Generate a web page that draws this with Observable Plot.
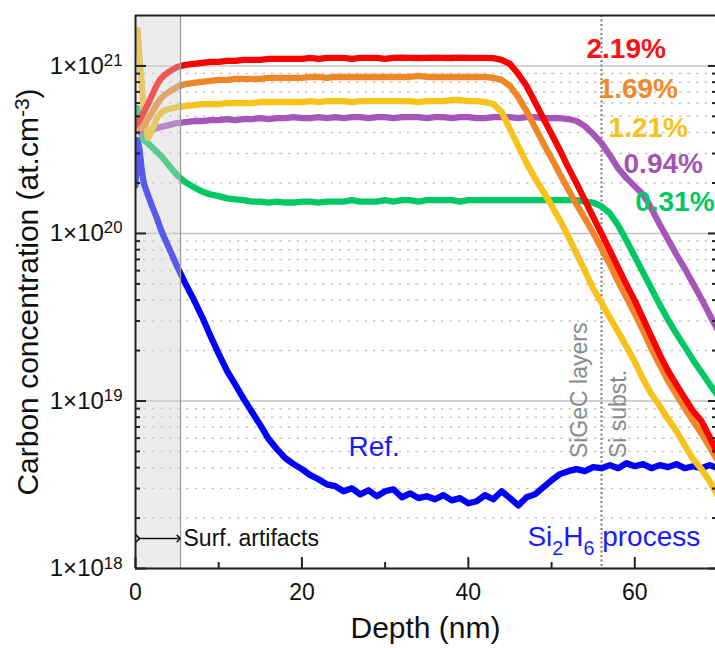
<!DOCTYPE html>
<html><head><meta charset="utf-8">
<script src="https://cdn.jsdelivr.net/npm/d3@7"></script>
<script src="https://cdn.jsdelivr.net/npm/@observablehq/plot@0.6"></script>
<style>
html,body{margin:0;padding:0;background:#fff;}
#chart{width:715px;height:648px;overflow:hidden;}
</style></head>
<body><div id="chart"></div>
<script>
// ---- data (depth in nm, carbon concentration in at.cm^-3) ----
const depth = [0,0.25,0.5,0.75,1,1.5,2,2.5,3,3.5,4,
  5,6,7,8,9,10,11,12,13,14,15,16,17,18,19,20,21,22,23,24,25,26,27,28,29,30,
  31,32,33,34,35,36,37,38,39,40,41,42,43,44,45,46,47,48,49,50,
  51,52,53,54,55,56,57,58,59,60,61,62,63,64,65,66,67,68,69,70];

const c219 = [4.43e20,4.56e20,4.75e20,5.02e20,5.30e20,5.92e20,6.71e20,7.59e20,8.36e20,8.84e20,9.21e20,
  9.86e20,1.014e21,1.028e21,1.042e21,1.057e21,1.057e21,
  1.071e21,1.071e21,1.086e21,1.086e21,1.086e21,
  1.101e21,1.101e21,1.101e21,1.101e21,1.101e21,
  1.117e21,1.101e21,1.117e21,1.117e21,1.117e21,
  1.101e21,1.117e21,1.117e21,1.117e21,1.101e21,
  1.117e21,1.12e21,1.117e21,1.115e21,1.117e21,
  1.12e21,1.117e21,1.115e21,1.12e21,1.117e21,
  1.117e21,1.117e21,1.112e21,1.086e21,1.028e21,
  8.96e20,7.59e20,6.09e20,4.88e20,3.92e20,
  3.14e20,2.48e20,1.99e20,1.58e20,1.25e20,
  1.00e20,7.91e19,6.26e19,4.95e19,3.97e19,
  3.10e19,2.42e19,1.89e19,1.51e19,1.25e19,
  1.04e19,8.71e18,7.59e18,6.09e18,4.82e18];

const c169 = [4.25e20,4.25e20,4.25e20,4.31e20,4.43e20,4.82e20,5.30e20,5.84e20,6.35e20,6.71e20,6.99e20,
  7.49e20,7.80e20,7.91e20,8.02e20,8.13e20,8.25e20,
  8.25e20,8.36e20,8.36e20,8.36e20,8.36e20,
  8.48e20,8.48e20,8.48e20,8.48e20,8.48e20,
  8.59e20,8.59e20,8.48e20,8.59e20,8.59e20,
  8.59e20,8.59e20,8.59e20,8.59e20,8.59e20,
  8.59e20,8.59e20,8.59e20,8.71e20,8.59e20,
  8.59e20,8.59e20,8.59e20,8.59e20,8.59e20,
  8.59e20,8.59e20,8.48e20,8.25e20,7.59e20,
  6.52e20,5.38e20,4.31e20,3.46e20,2.81e20,
  2.26e20,1.83e20,1.49e20,1.23e20,1.01e20,
  8.13e19,6.52e19,5.16e19,4.14e19,3.32e19,
  2.63e19,2.05e19,1.64e19,1.32e19,1.09e19,
  9.08e18,7.59e18,6.43e18,5.30e18,4.37e18];

const c121 = [1.53e21,1.64e21,1.09e21,7.70e20,5.45e20,3.71e20,4.14e20,4.82e20,5.23e20,5.45e20,5.53e20,
  5.68e20,5.76e20,5.84e20,5.92e20,5.92e20,5.92e20,
  6.00e20,6.00e20,6.00e20,6.00e20,6.09e20,
  6.09e20,6.09e20,6.09e20,6.09e20,6.09e20,
  6.17e20,6.09e20,6.17e20,6.17e20,6.17e20,
  6.09e20,6.17e20,6.17e20,6.17e20,6.17e20,
  6.17e20,6.17e20,6.17e20,6.09e20,6.17e20,
  6.17e20,6.17e20,6.26e20,6.26e20,6.17e20,
  6.17e20,6.09e20,5.92e20,5.30e20,4.20e20,
  3.32e20,2.63e20,2.14e20,1.78e20,1.47e20,
  1.20e20,9.60e19,7.59e19,6.00e19,4.69e19,
  3.86e19,3.14e19,2.59e19,2.11e19,1.71e19,
  1.35e19,1.10e19,9.34e18,7.80e18,6.61e18,
  5.45e18,4.50e18,3.92e18,3.32e18,2.70e18];

const c094 = [4.14e20,4.08e20,4.03e20,4.03e20,4.03e20,4.08e20,4.14e20,4.25e20,4.31e20,4.37e20,4.43e20,
  4.56e20,4.62e20,4.69e20,4.69e20,4.75e20,4.75e20,
  4.82e20,4.75e20,4.82e20,4.82e20,4.88e20,
  4.82e20,4.88e20,4.88e20,4.95e20,4.88e20,
  4.88e20,4.95e20,4.88e20,4.95e20,4.88e20,
  4.95e20,4.95e20,4.88e20,4.95e20,4.95e20,
  4.88e20,4.95e20,4.95e20,4.95e20,4.88e20,
  4.95e20,4.95e20,4.88e20,4.95e20,4.95e20,
  4.88e20,4.88e20,4.95e20,4.95e20,4.95e20,
  4.88e20,4.95e20,4.95e20,4.88e20,4.88e20,
  4.88e20,4.82e20,4.69e20,4.37e20,3.92e20,
  3.46e20,2.93e20,2.45e20,2.14e20,1.91e20,
  1.71e20,1.41e20,1.13e20,9.21e19,7.49e19,
  6.17e19,5.02e19,4.08e19,3.27e19,2.63e19];

const c031 = [4.88e20,5.60e20,4.43e20,3.86e20,3.61e20,3.46e20,3.27e20,3.10e20,2.93e20,2.74e20,2.55e20,
  2.23e20,2.02e20,1.89e20,1.78e20,1.71e20,1.67e20,
  1.62e20,1.60e20,1.58e20,1.55e20,1.55e20,
  1.53e20,1.55e20,1.53e20,1.53e20,1.55e20,
  1.55e20,1.53e20,1.55e20,1.55e20,1.55e20,
  1.58e20,1.55e20,1.55e20,1.55e20,1.58e20,
  1.55e20,1.58e20,1.58e20,1.55e20,1.58e20,
  1.58e20,1.58e20,1.58e20,1.55e20,1.58e20,
  1.58e20,1.58e20,1.58e20,1.58e20,1.58e20,
  1.58e20,1.58e20,1.58e20,1.58e20,1.58e20,
  1.58e20,1.58e20,1.58e20,1.55e20,1.53e20,
  1.45e20,1.32e20,1.12e20,9.08e19,7.28e19,
  5.84e19,4.69e19,3.76e19,3.05e19,2.52e19,
  2.11e19,1.76e19,1.49e19,1.26e19,1.07e19];

const cRef = [1.94e20,3.61e20,3.14e20,2.38e20,1.99e20,1.69e20,1.45e20,1.26e20,1.07e20,9.34e19,8.25e19,
  6.35e19,5.02e19,4.03e19,3.18e19,2.45e19,1.91e19,
  1.51e19,1.25e19,1.03e19,8.59e18,7.18e18,
  5.92e18,5.16e18,4.56e18,4.20e18,3.92e18,
  3.61e18,3.41e18,3.18e18,3.10e18,2.89e18,
  3.01e18,2.77e18,2.93e18,2.70e18,2.89e18,
  2.97e18,2.66e18,2.81e18,2.63e18,2.70e18,
  2.59e18,2.74e18,2.55e18,2.63e18,2.45e18,
  2.52e18,2.74e18,2.59e18,2.89e18,2.63e18,
  2.38e18,2.66e18,2.77e18,3.05e18,3.36e18,
  3.66e18,3.81e18,3.92e18,3.81e18,4.03e18,
  3.97e18,4.14e18,3.97e18,4.25e18,4.08e18,
  4.20e18,3.97e18,4.14e18,4.03e18,4.20e18,
  3.97e18,4.08e18,3.97e18,4.14e18,3.97e18];

const seriesNames = ["Ref.", "0.31%", "0.94%", "1.21%", "1.69%", "2.19%"];
const seriesValues = [cRef, c031, c094, c121, c169, c219];

const decadeTicks = [1e18, 1e19, 1e20, 1e21];
const minorTicks = [2e18,3e18,4e18,5e18,6e18,7e18,8e18,9e18,
  2e19,3e19,4e19,5e19,6e19,7e19,8e19,9e19,
  2e20,3e20,4e20,5e20,6e20,7e20,8e20,9e20];
const depthTicks = [0, 20, 40, 60];
const depthMinorTicks = [10, 30, 50];
const surfaceLimit = 5.41;   // nm, end of surface-artifact zone
const interfaceDepth = 56;   // nm, SiGeC / Si substrate interface

// ---- styles ----
const FONT = "'Liberation Sans', Arial, Helvetica, sans-serif";
const lineColors = {"Ref.": "#0000ff", "0.31%": "#00c864", "0.94%": "#a655b8",
  "1.21%": "#f7c21a", "1.69%": "#ef8627", "2.19%": "#ff0000"};
const labelColors = {"0.31%": "#00c864", "0.94%": "#a353b5",
  "1.21%": "#f5c21b", "1.69%": "#ef8a2b", "2.19%": "#ff1010"};

const tables = seriesNames.map((name, k) =>
  depth.map((d, i) => ({depth: d, conc: seriesValues[k][i], series: name})));

const pctLabels = [
  {x: 54.2, y: 1.12e21, t: "2.19%"},
  {x: 55.65, y: 6.43e20, t: "1.69%"},
  {x: 56.85, y: 3.76e20, t: "1.21%"},
  {x: 58.65, y: 2.29e20, t: "0.94%"},
  {x: 60.05, y: 1.37e20, t: "0.31%"}
];

const lineMarks = seriesNames.map((name, k) =>
  Plot.line(tables[k], {x: "depth", y: "conc", stroke: lineColors[name], strokeWidth: 6.3,
    strokeLinejoin: "round", strokeLinecap: "round", clip: true}));

const pctMarks = pctLabels.map(d =>
  Plot.text([d], {x: "x", y: "y", text: "t", fill: labelColors[d.t], textAnchor: "start",
    lineAnchor: "bottom", fontSize: 28, fontWeight: "bold"}));

const frameColor = "#222";

const chart = Plot.plot({
  width: 715, height: 648,
  marginLeft: 135, marginRight: 0, marginTop: 15, marginBottom: 80,
  style: {fontFamily: FONT, background: "#fff", color: "#111", overflow: "visible"},
  x: {domain: [0, 69.7]},
  y: {type: "log", domain: [1e18, 2e21]},
  marks: [
    Plot.ruleY(minorTicks, {stroke: "#c6c6c6", strokeWidth: 1.5, strokeDasharray: "2.5,6"}),
    Plot.ruleY(decadeTicks, {stroke: "#c4c4c4", strokeWidth: 1.5}),
    Plot.ruleX([interfaceDepth], {stroke: "#7a7a7a", strokeWidth: 2, strokeDasharray: "2,2.5"}),
    ...lineMarks,
    Plot.rect([{x1: 0, x2: surfaceLimit}], {x1: "x1", x2: "x2", fill: "#d2d2d2", fillOpacity: 0.42}),
    Plot.ruleX([surfaceLimit], {stroke: "#9a9a9a", strokeWidth: 1.2}),
    // frame
    Plot.ruleX([0], {stroke: frameColor, strokeWidth: 2}),
    Plot.ruleY([1e18], {stroke: frameColor, strokeWidth: 2}),
    Plot.ruleY([2e21], {stroke: frameColor, strokeWidth: 2}),
    // axes: ticks pointing inward
    Plot.axisY({anchor: "left", ticks: decadeTicks, tickSize: -11, tickFormat: () => "", label: null, stroke: frameColor, strokeWidth: 2}),
    Plot.axisY({anchor: "left", ticks: minorTicks, tickSize: -5, tickFormat: () => "", label: null, stroke: frameColor, strokeWidth: 2}),
    Plot.axisY({anchor: "right", ticks: decadeTicks, tickSize: -8, tickFormat: () => "", label: null, stroke: frameColor, strokeWidth: 2}),
    Plot.axisY({anchor: "right", ticks: minorTicks, tickSize: -4, tickFormat: () => "", label: null, stroke: frameColor, strokeWidth: 2}),
    Plot.axisY({anchor: "left", ticks: decadeTicks, tickSize: 0, tickPadding: 13, fontSize: 24, fill: "#111",
      tickFormat: d => `1×10^{${Math.round(Math.log10(d))}}`, label: null}),
    Plot.axisX({ticks: depthTicks, tickSize: -11, tickFormat: () => "", label: null, stroke: frameColor, strokeWidth: 2}),
    Plot.axisX({ticks: depthMinorTicks, tickSize: -6, tickFormat: () => "", label: null, stroke: frameColor, strokeWidth: 2}),
    Plot.axisX({ticks: depthTicks, tickSize: 0, tickPadding: 15, fontSize: 23, fill: "#111", tickFormat: d => String(d), label: null}),
    // axis titles
    Plot.text(["Depth (nm)"], {frameAnchor: "bottom", dy: 69, textAnchor: "middle", lineAnchor: "bottom", fontSize: 30, fill: "#111"}),
    Plot.text(["Carbon concentration (at.cm^{-3})"], {frameAnchor: "left", dx: -107, rotate: -90, textAnchor: "middle", lineAnchor: "middle", fontSize: 30, fill: "#111"}),
    // annotations
    ...pctMarks,
    Plot.text([{x: 25.6, y: 4.69e18, t: "Ref."}], {x: "x", y: "y", text: "t", textAnchor: "start", lineAnchor: "bottom", fontSize: 28, fill: "#1a1aff"}),
    Plot.text([{x: 47.1, y: 1.36e18, t: "Si_{2}H_{6} process"}], {x: "x", y: "y", text: "t", textAnchor: "start", lineAnchor: "bottom", fontSize: 28, fill: "#1a1aff"}),
    Plot.text([{x: 5.77, y: 1.36e18, t: "Surf. artifacts"}], {x: "x", y: "y", text: "t", textAnchor: "start", lineAnchor: "bottom", fontSize: 23, fill: "#111"}),
    Plot.text([{x: 54.2, y: 4.56e18, t: "SiGeC layers"}, {x: 59.0, y: 4.56e18, t: "Si subst."}],
      {x: "x", y: "y", text: "t", rotate: -90, textAnchor: "start", lineAnchor: "bottom", fontSize: 23, fill: "#8a8a8a"}),
    Plot.link([{a: 0.3, b: 5.2, y: 1.51e18}], {x1: "a", x2: "b", y1: "y", y2: "y", stroke: "#111", strokeWidth: 1.6,
      markerStart: "arrow", markerEnd: "arrow"})
  ]
});

document.getElementById("chart").appendChild(chart);

// turn ^{..} / _{..} markup into real super/subscript tspans
d3.select(chart).selectAll("text").each(function() {
  const raw = this.textContent;
  if (!/[\^_]\{/.test(raw)) return;
  const fs = parseFloat(getComputedStyle(this).fontSize) || 16;
  const sel = d3.select(this);
  sel.text(null);
  let cur = 0;
  for (const part of raw.split(/([\^_]\{[^}]*\})/)) {
    if (!part) continue;
    let target = 0, str = part, size = null;
    if (part.startsWith("^{")) { target = -0.32 * fs; str = part.slice(2, -1); size = 0.7 * fs; }
    else if (part.startsWith("_{")) { target = 0.3 * fs; str = part.slice(2, -1); size = 0.7 * fs; }
    const ts = sel.append("tspan").text(str);
    if (target !== cur) ts.attr("dy", target - cur);
    if (size) ts.attr("font-size", size);
    cur = target;
  }
});
</script>
</body></html>
